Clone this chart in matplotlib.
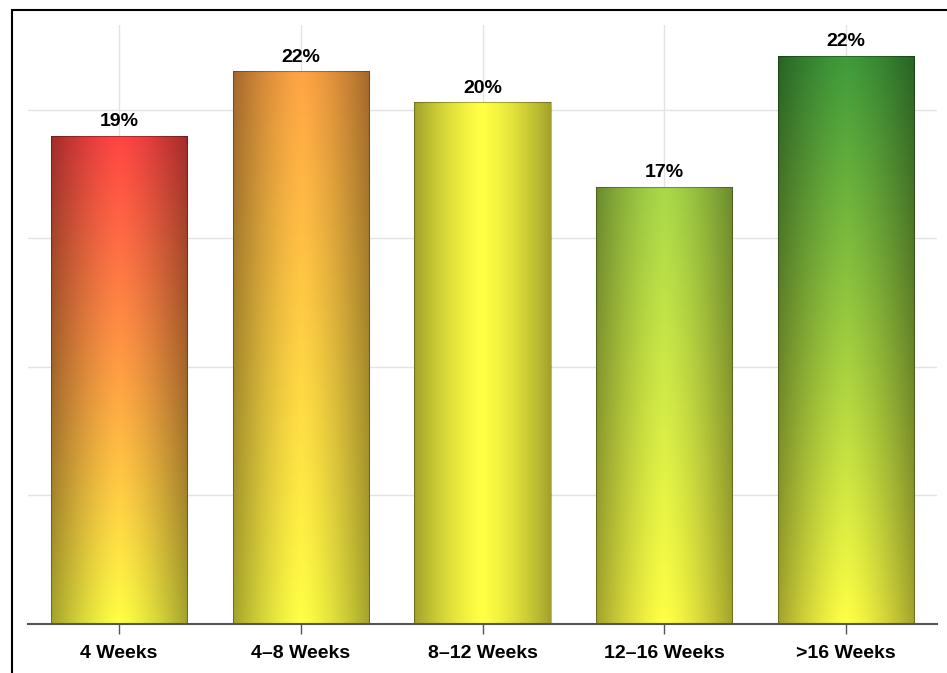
import matplotlib.pyplot as plt
import numpy as np
from matplotlib.colors import to_rgb
from matplotlib.patches import Rectangle

categories = ["4 Weeks", "4–8 Weeks", "8–12 Weeks", "12–16 Weeks", ">16 Weeks"]
values = [19.0, 21.5, 20.3, 17.0, 22.1]
value_labels = ["19%", "22%", "20%", "17%", "22%"]
top_colors = ["#ff4444", "#ffa444", "#ffff44", "#a8d848", "#3e9a3a"]
bottom_color = "#ffff44"

plt.rcParams["font.family"] = ["Liberation Sans", "DejaVu Sans"]

W, H = 947, 673
fig = plt.figure(figsize=(W / 100, H / 100), dpi=100)
ax = fig.add_axes([28 / W, (H - 624) / H, 909 / W, (624 - 25) / H])

x = np.arange(len(categories))
bar_w = 0.75


def bar_image(top, bottom, nrows=300, ncols=120):
    # vertical blend top -> bottom, then darken towards the bar edges
    top = np.array(to_rgb(top))
    bottom = np.array(to_rgb(bottom))
    v = np.linspace(1, 0, nrows)[:, None, None]
    col = bottom + (top - bottom) * v
    t = np.linspace(-1, 1, ncols)
    shade = 1 - 0.36 * np.abs(t) ** 1.4
    img = col * shade[None, :, None]
    return np.clip(img, 0, 1)


bars = ax.bar(x, values, width=bar_w, facecolor="none",
              edgecolor=(0, 0, 0, 0.3), linewidth=0.8, zorder=3)

for xi, v, rect, tc in zip(x, values, bars, top_colors):
    im = ax.imshow(bar_image(tc, bottom_color),
                   extent=[xi - bar_w / 2, xi + bar_w / 2, 0, v],
                   aspect="auto", zorder=2.5, interpolation="bilinear")
    im.set_clip_path(rect)

for xi, v, lab in zip(x, values, value_labels):
    ax.annotate(lab, (xi, v), xytext=(0, 4), textcoords="offset points",
                ha="center", va="bottom", fontsize=14, fontweight="bold")

ax.set_xlim(-0.5, 4.5)
ax.set_ylim(0, 23.3)
ax.set_yticks([5, 10, 15, 20])
ax.set_xticks(x)
ax.set_xticklabels(categories, fontsize=14, fontweight="bold")
ax.tick_params(axis="y", length=0, labelleft=False)
ax.tick_params(axis="x", length=7, width=1, color="#555555", pad=8)
ax.grid(color="#e3e3e3", linewidth=1)
ax.set_axisbelow(True)

for side in ["top", "right", "left"]:
    ax.spines[side].set_visible(False)
ax.spines["bottom"].set_color("#555555")
ax.spines["bottom"].set_linewidth(1.5)
ax.spines["bottom"].set_zorder(4)

# outer frame, cut off by the right and bottom edges of the picture
fig.add_artist(Rectangle((12 / W, -0.5), 2, 0.5 + 1 - 10 / H,
                         transform=fig.transFigure, fill=False,
                         edgecolor="black", linewidth=1.5))

fig.savefig("out.png", dpi=100)
